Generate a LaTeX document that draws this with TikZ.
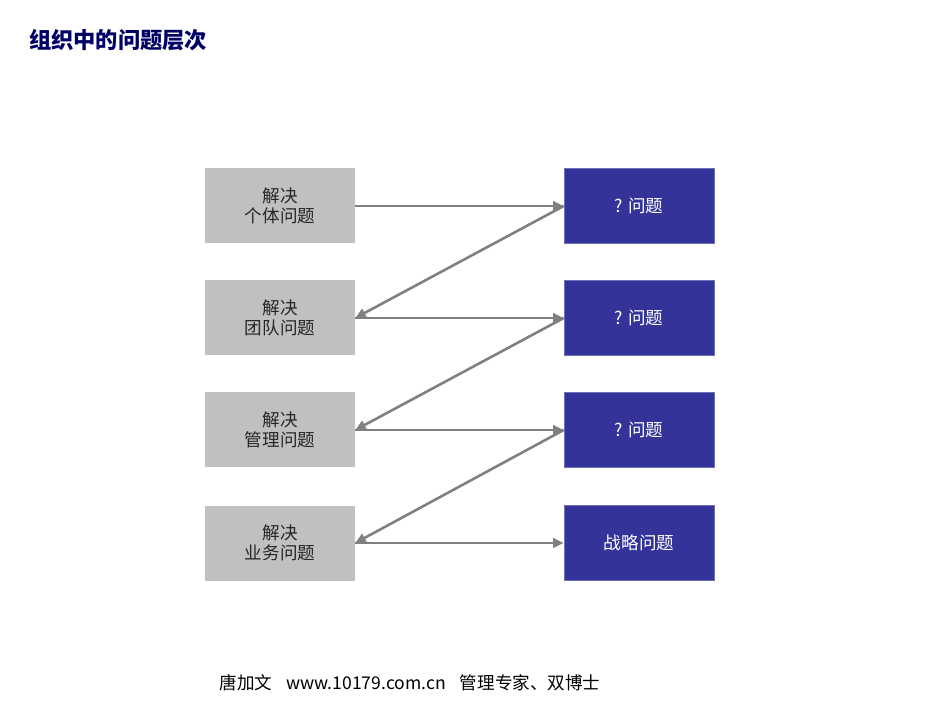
\documentclass[tikz,border=0pt]{standalone}
\usepackage{fontspec}
\setmainfont{DejaVu Sans}
\newfontfamily\cjk{Noto Sans CJK SC}
\usetikzlibrary{arrows.meta}
\definecolor{boxgray}{HTML}{C0C0C0}
\definecolor{boxblue}{HTML}{333399}
\definecolor{arrgray}{HTML}{808080}
\definecolor{titleblue}{HTML}{000066}
\begin{document}
\begin{tikzpicture}[x=0.03cm,y=-0.03cm,
  lbox/.style={fill=boxgray,minimum width=150*0.03cm,minimum height=75*0.03cm,inner sep=0pt,align=center,font=\cjk\fontsize{15}{17}\selectfont,text=black!85},
  rbox/.style={fill=boxblue,draw=boxblue!70,minimum width=150*0.03cm,minimum height=75*0.03cm,inner sep=0pt,align=center,font=\cjk\fontsize{15}{17}\selectfont,text=white},
  conn/.style={draw=arrgray,line width=2.2pt,-{Triangle[length=9pt,width=8pt]}}]
\useasboundingbox (0,0) rectangle (950,713);
\node[anchor=west,font=\cjk\bfseries\fontsize{19}{21}\selectfont,text=titleblue] (title) at (25,40) {组织中的问题层次};
\node[lbox] (l1) at (280,206) {解决\\个体问题};
\node[lbox] (l2) at (280,318) {解决\\团队问题};
\node[lbox] (l3) at (280,430) {解决\\管理问题};
\node[lbox] (l4) at (280,543) {解决\\业务问题};
\node[rbox] (r1) at (639,206) {? 问题};
\node[rbox] (r2) at (639,318) {? 问题};
\node[rbox] (r3) at (639,430) {? 问题};
\node[rbox] (r4) at (639,543) {战略问题};
\foreach \i in {1,2,3,4}{\draw[conn] (l\i.east) -- (r\i.west);}
\foreach \i/\j in {1/2,2/3,3/4}{\draw[conn] (r\i.west) -- (l\j.east);}
\node[font=\cjk\fontsize{15}{17}\selectfont] (foot) at (410,683) {唐加文\hspace{0.8em}www.10179.com.cn\hspace{0.8em}管理专家、双博士};
\end{tikzpicture}
\end{document}
